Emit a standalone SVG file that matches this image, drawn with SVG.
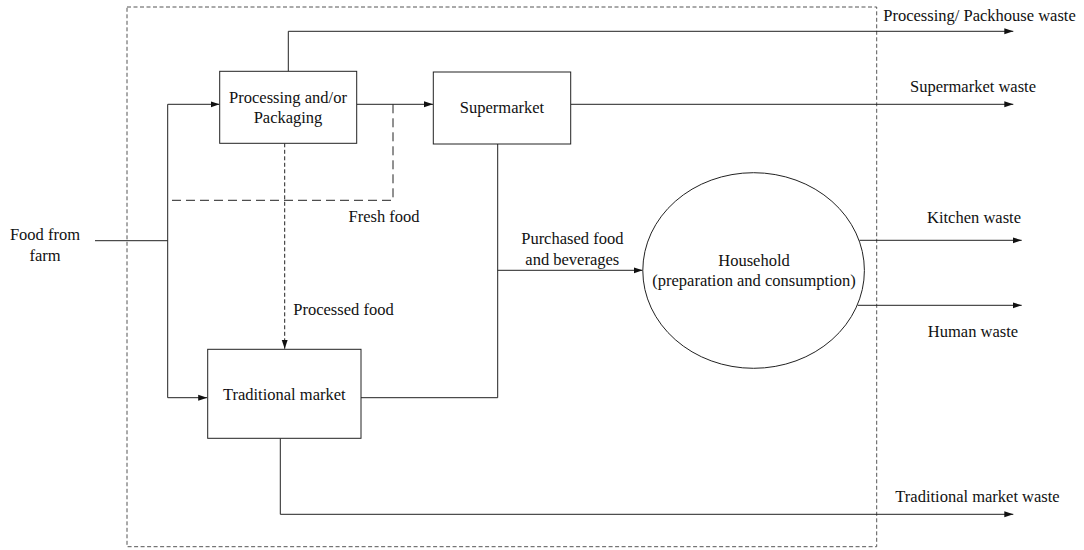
<svg xmlns="http://www.w3.org/2000/svg" width="1084" height="550" viewBox="0 0 1084 550">
<style>
text{font-family:"Liberation Serif","Times New Roman",serif;font-size:16.5px;fill:#111}
.c{text-anchor:middle}
.box{fill:#fff;stroke:#222;stroke-width:1}
.ln{fill:none;stroke:#222;stroke-width:1}
.dl{fill:none;stroke:#222;stroke-width:1;stroke-dasharray:9 5}
.ds{fill:none;stroke:#222;stroke-width:1;stroke-dasharray:4 2.5}
.bd{fill:none;stroke:#555;stroke-width:1;stroke-dasharray:4 2.5}
</style>
<defs>
<marker id="a" markerWidth="10" markerHeight="8" refX="9" refY="4" orient="auto" markerUnits="userSpaceOnUse">
<path d="M0,1 L9,4 L0,7 Z" fill="#111"/>
</marker>
</defs>
<rect id="boundary" class="bd" x="127" y="7" width="749.7" height="539.7"/>
<g id="connectors">
<path class="ln" d="M95,240.7 H167.7"/>
<path class="ln" d="M167.7,397.7 V104.3 H219.5" marker-end="url(#a)"/>
<path class="ln" d="M167.7,397.7 H207.2" marker-end="url(#a)"/>
<path class="ln" d="M356.7,104.3 H433" marker-end="url(#a)"/>
<path class="dl" d="M393,104.3 V200.3 H167.7"/>
<path class="ds" d="M284.7,143.3 V348.8" marker-end="url(#a)"/>
<path class="ln" d="M288.3,71.3 V31.3 H1013.3" marker-end="url(#a)"/>
<path class="ln" d="M570.7,104.3 H1013.3" marker-end="url(#a)"/>
<path class="ln" d="M497.7,144 V397.7 H361"/>
<path class="ln" d="M497.7,270.3 H642.7" marker-end="url(#a)"/>
<path class="ln" d="M859.5,240.3 H1021.7" marker-end="url(#a)"/>
<path class="ln" d="M857.7,305.3 H1021.7" marker-end="url(#a)"/>
<path class="ln" d="M280.3,438.3 V514.3 H1013.3" marker-end="url(#a)"/>
</g>
<g id="processing">
<rect class="box" x="219.7" y="71.3" width="137" height="72"/>
<text class="c" x="288" y="103">Processing and/or</text>
<text class="c" x="288" y="122.5">Packaging</text>
</g>
<g id="supermarket">
<rect class="box" x="433.3" y="72" width="137.4" height="72"/>
<text class="c" x="502" y="112.5">Supermarket</text>
</g>
<g id="traditional">
<rect class="box" x="207.7" y="349.3" width="153.3" height="89"/>
<text class="c" x="284.3" y="400">Traditional market</text>
</g>
<g id="household">
<ellipse cx="753.6" cy="270.5" rx="110.8" ry="97.8" fill="#fff" stroke="#222" stroke-width="1"/>
<text class="c" x="754" y="266">Household</text>
<text class="c" x="754" y="286">(preparation and consumption)</text>
</g>
<g id="labels">
<text class="c" x="45" y="240">Food from</text>
<text class="c" x="45" y="261">farm</text>
<text class="c" x="384" y="221.5">Fresh food</text>
<text x="293.3" y="314.5">Processed food</text>
<text class="c" x="572.3" y="244">Purchased food</text>
<text class="c" x="572.3" y="265">and beverages</text>
<text x="883.3" y="20.5">Processing/ Packhouse waste</text>
<text class="c" x="973" y="91.5">Supermarket waste</text>
<text class="c" x="974" y="222.5">Kitchen waste</text>
<text class="c" x="973" y="336.5">Human waste</text>
<text class="c" x="977.5" y="501.5">Traditional market waste</text>
</g>
</svg>
